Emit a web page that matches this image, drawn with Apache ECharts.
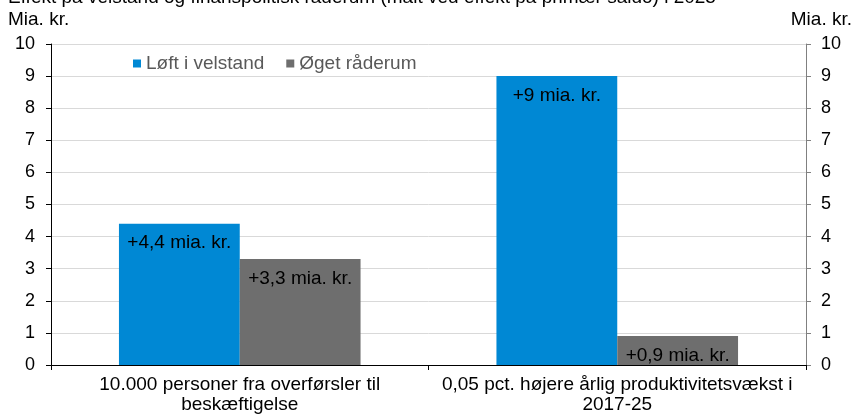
<!DOCTYPE html>
<html lang="da">
<head>
    <meta charset="UTF-8">
    <title>Velstand og råderum</title>
    <script src="https://cdn.jsdelivr.net/npm/echarts@6/dist/echarts.min.js"></script>
    <style>
        html, body { margin: 0; padding: 0; background: #fff; }
        #main { width: 857px; height: 417px; }
    </style>
</head>
<body>
<div id="main"></div>
<script>
    // data
    var categories = ['10.000 personer fra overførsler til\nbeskæftigelse', '0,05 pct. højere årlig produktivitetsvækst i\n2017-25'];
    var velstand = [4.4, 9];
    var raaderum = [3.3, 0.9];
    var labelsVelstand = ['+4,4 mia. kr.', '+9 mia. kr.'];
    var labelsRaaderum = ['+3,3 mia. kr.', '+0,9 mia. kr.'];

    var font = '"Liberation Sans", Arial, sans-serif';
    var fs = 19;   // tekst
    var fsTick = 18; // akse-tal
    var chart = echarts.init(document.getElementById('main'));

    function barLabel(texts) {
        return {
            show: true,
            position: 'insideTop',
            distance: 10,
            color: '#000',
            fontFamily: font,
            fontSize: fs,
            formatter: function (p) { return texts[p.dataIndex]; }
        };
    }

    chart.setOption({
        animation: false,
        backgroundColor: '#fff',
        textStyle: { fontFamily: font },
        graphic: [
            { type: 'text', left: 8, top: -12, style: { text: 'Effekt på velstand og finanspolitisk råderum (målt ved effekt på primær saldo) i 2025', font: fs + 'px ' + font, fill: '#000' } },
            { type: 'text', left: 8, top: 10, style: { text: 'Mia. kr.', font: fs + 'px ' + font, fill: '#000' } },
            { type: 'text', right: 5, top: 10, style: { text: 'Mia. kr.', font: fs + 'px ' + font, fill: '#000' } }
        ],
        legend: {
            left: 128,
            top: 49,
            itemWidth: 8,
            itemHeight: 8,
            itemGap: 22,
            icon: 'rect',
            textStyle: { fontSize: fs, color: '#595959', fontFamily: font },
            data: ['Løft i velstand', 'Øget råderum']
        },
        grid: { left: 51, right: 51, top: 44, bottom: 52 },
        xAxis: {
            type: 'category',
            data: categories,
            axisLine: { lineStyle: { color: '#000', width: 1 } },
            axisTick: { show: true, length: 5, lineStyle: { color: '#000' } },
            axisLabel: { color: '#000', fontSize: fs, lineHeight: 20, margin: 10, interval: 0 }
        },
        yAxis: [{
            type: 'value', min: 0, max: 10, interval: 1,
            axisLine: { show: true, lineStyle: { color: '#000' } },
            axisTick: { show: true, length: 5, lineStyle: { color: '#000' } },
            axisLabel: { color: '#000', fontSize: fsTick, margin: 16 },
            splitLine: { lineStyle: { color: '#d9d9d9' } }
        }, {
            type: 'value', min: 0, max: 10, interval: 1, position: 'right',
            axisLine: { show: true, lineStyle: { color: '#808080' } },
            axisTick: { show: true, length: 5, lineStyle: { color: '#808080' } },
            axisLabel: { color: '#000', fontSize: fsTick, margin: 15 },
            splitLine: { show: false }
        }],
        series: [{
            name: 'Løft i velstand',
            type: 'bar',
            data: velstand,
            barGap: '0%',
            barCategoryGap: '36%',
            itemStyle: { color: '#0088d4' },
            label: barLabel(labelsVelstand)
        }, {
            name: 'Øget råderum',
            type: 'bar',
            data: raaderum,
            itemStyle: { color: '#6e6e6e' },
            label: barLabel(labelsRaaderum)
        }]
    });
</script>
</body>
</html>
